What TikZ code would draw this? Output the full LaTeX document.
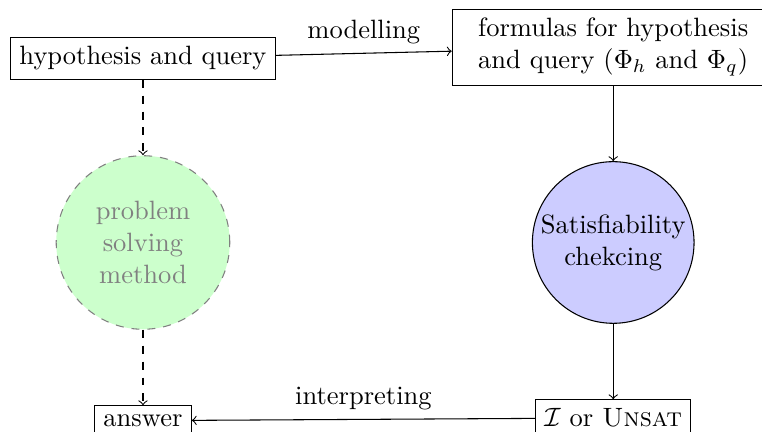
\documentclass[tikz,border=0pt]{standalone}
\usepackage{tikz}
\usetikzlibrary{arrows, positioning}

\begin{document}
\begin{tikzpicture}[
		box/.style={draw, rectangle},
		method/.style={circle, draw=gray, dashed, fill=green!20, text=gray,
			align=center, minimum size=65.5pt},
		solver/.style={circle, draw, fill=blue!20, align=center,
			inner sep=0pt, minimum size=61pt}]
	\useasboundingbox (-53.96pt,22.08pt) rectangle (233.6pt,-140.9pt);
	\node (hyp) [box] at (0,0) {hypothesis and query};
	\node (psm) [method, below=of hyp] {problem\\ solving\\ method};
	\node (sat) [solver, right=4cm of psm] {Satisfiability\\ chekcing};
	\node (form) [box, above=of sat, align=left, minimum width=121.5pt] {
		formulas for hypothesis\\
		and query ($\Phi_h$ and $\Phi_q$)
	};
	\node (ans) [box, below=of psm] {answer};
	\node (res) [box, below=of sat] {$\mathcal{I}$ or \textsc{Unsat}};
	\draw [->] (hyp) -- node [above] {modelling} (form);
	\draw [->] (form) -- (sat);
	\draw [->] (sat) -- (res);
	\draw [->] (res) -- node [above] {interpreting} (ans);
	\draw [->, dashed] (hyp) -- (psm);
	\draw [->, dashed] (psm) -- (ans);
\end{tikzpicture}
\end{document}
